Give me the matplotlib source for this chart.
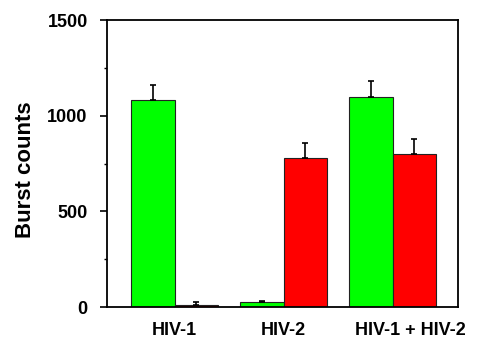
"""
Burst counts per sample, two detection channels.
"""
import numpy as np
import matplotlib
matplotlib.use("Agg")
import matplotlib.pyplot as plt
import matplotlib.transforms as mtransforms
from matplotlib.ticker import MultipleLocator

samples = ["HIV-1", "HIV-2", "HIV-1 + HIV-2"]
green_counts = [1082, 25, 1096]
green_err = [80, 8, 85]
red_counts = [12, 777, 800]
red_err = [15, 82, 76]

plt.rcParams['font.family'] = ['Liberation Sans', 'DejaVu Sans']
plt.rcParams['font.weight'] = 'bold'

fig = plt.figure(figsize=(4.78, 3.42), dpi=100)
ax = fig.add_axes([0.224, 0.1023, 0.734, 0.8392])

x = np.arange(len(samples))
width = 0.4
err_kw = dict(ecolor='black', elinewidth=1.2, capsize=2.5, capthick=1.2)

ax.bar(x - width / 2, green_counts, width, color='#00ff00', edgecolor='#222222',
       linewidth=0.8, yerr=[np.zeros(3), green_err], error_kw=err_kw)
ax.bar(x + width / 2, red_counts, width, color='#ff0000', edgecolor='#222222',
       linewidth=0.8, yerr=[np.zeros(3), red_err], error_kw=err_kw)

ax.set_xlim(-0.62, 2.6)
ax.set_ylim(0, 1500)
ax.set_xticks(x)
ax.set_xticklabels(samples, fontsize=13, fontweight='bold')
ax.tick_params(axis='x', length=0, pad=11)
# last label sits a bit right of its group in the original
last = ax.get_xticklabels()[-1]
last.set_transform(last.get_transform() +
                   mtransforms.ScaledTranslation(18 / 100, 0, fig.dpi_scale_trans))

ax.yaxis.set_major_locator(MultipleLocator(500))
ax.yaxis.set_minor_locator(MultipleLocator(250))
ax.tick_params(axis='y', which='major', length=5, width=1.2, labelsize=13, pad=9)
ax.tick_params(axis='y', which='minor', length=2.5, width=1.0)
for lbl in ax.get_yticklabels():
    lbl.set_fontweight('bold')
for s in ax.spines.values():
    s.set_linewidth(1.3)

ax.set_ylabel('Burst counts', fontsize=16, fontweight='bold')
ax.yaxis.set_label_coords(-0.202, 0.48)

fig.savefig('out.png', dpi=100)
